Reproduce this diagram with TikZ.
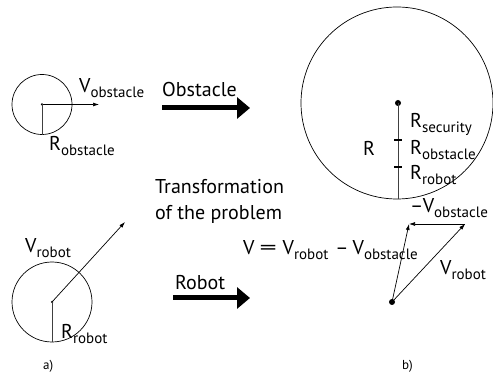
\documentclass[tikz,border=0pt]{standalone}
\usepackage{fontspec}
\setmainfont{PT Sans}
\usetikzlibrary{arrows.meta}
% subscript in a smaller size, dropped below the baseline
\newcommand{\lowsub}[1]{\raisebox{-0.25em}{\fontsize{15}{15}\selectfont #1}}
% wide equals sign for the velocity relation
\newcommand{\wideeq}{\scalebox{1.7}[1]{=}}
\begin{document}
\begin{tikzpicture}[x=1pt,y=-1pt,
  lbl/.style={inner sep=0pt,anchor=base west,font=\fontsize{20}{22}\selectfont},
  ring/.style={draw,circle,line width=0.7pt,inner sep=0pt},
  thin arrow/.style={line width=0.7pt,-{Latex[length=6,width=4]}},
  radius line/.style={draw=black!75,line width=1pt},
  big arrow/.style={line width=5pt,-{Triangle[length=13,width=21]}},
  dotc/.style={circle,fill,inner sep=0pt,minimum size=#1}]
\useasboundingbox (0,0) rectangle (493,374);

% ---- a) obstacle
\node[ring,minimum size=60] (obs) at (42,104.5) {};
\node[dotc=2.5] (obsc) at (obs.center) {};
\coordinate (obsv) at (99,104.5);
\draw[thin arrow] (obsc.center) -- (obsv);
\draw[radius line] (obsc.center) -- (obs.south);
\node[lbl] (vobs) at (79,93) {V\lowsub{obstacle}};
\node[lbl] (robs) at (49,151) {R\lowsub{obstacle}};

% ---- a) robot
\node[ring,minimum size=80] (rob) at (52,302) {};
\node[dotc=2.5] (robc) at (rob.center) {};
\coordinate (robv) at (125,222);
\draw[thin arrow] (robc.center) -- (robv);
\draw[radius line] (robc.center) -- (rob.south);
\node[lbl] (vrob) at (25,253) {V\lowsub{robot}};
\node[lbl] (rrob) at (61,338) {R\lowsub{robot}};

% ---- transformation arrows
\node[lbl] (tobs) at (162,97) {Obstacle};
\coordinate (oa) at (162,108);
\coordinate (ob) at (250,108);
\draw[big arrow] (oa) -- (ob);
\node[lbl] (trob) at (175,290) {Robot};
\coordinate (ra) at (173,298);
\coordinate (rb) at (250,298);
\draw[big arrow] (ra) -- (rb);
\node[lbl] (tr1) at (155,194) {Transformation};
\node[lbl] (tr2) at (155,220) {of the problem};

% ---- b) enlarged obstacle
\node[ring,minimum size=192] (big) at (397,103) {};
\node[dotc=6] (bigc) at (398,103) {};
\coordinate (bigb) at (398,199);
\draw[radius line] (bigc.center) -- (bigb);
\coordinate (t1) at (398,140);
\coordinate (t2) at (398,167);
\draw[line width=1.6pt] ([xshift=-4]t1) -- ([xshift=4]t1);
\draw[line width=1.6pt] ([xshift=-4]t2) -- ([xshift=4]t2);
\node[lbl] (rr) at (363,156) {R};
\node[lbl] (rsec) at (410,128) {R\lowsub{security}};
\node[lbl] (robs2) at (410,155) {R\lowsub{obstacle}};
\node[lbl] (rrob2) at (410,180) {R\lowsub{robot}};

% ---- b) relative velocity
\node[dotc=6] (o2) at (392,302) {};
\coordinate (va) at (409,224);
\coordinate (vb) at (465,224);
\draw[thin arrow] (o2.center) -- (va);
\draw[thin arrow] (vb) -- (va);
\draw[thin arrow] (o2.center) -- (vb);
\node[lbl] (mvobs) at (410,213) {–V\lowsub{obstacle}};
\node[lbl] (veq) at (243,255)
  {V\hspace{5pt}\wideeq\hspace{6pt}V\lowsub{robot}\hspace{7pt}–\hspace{4pt}V\lowsub{obstacle}};
\node[lbl] (vrob2) at (440,275) {V\lowsub{robot}};

% ---- captions
\node[lbl,font=\fontsize{13}{15}\selectfont] (ca) at (43,369) {a)};
\node[lbl,font=\fontsize{13}{15}\selectfont] (cb) at (402,369) {b)};
\end{tikzpicture}
\end{document}
